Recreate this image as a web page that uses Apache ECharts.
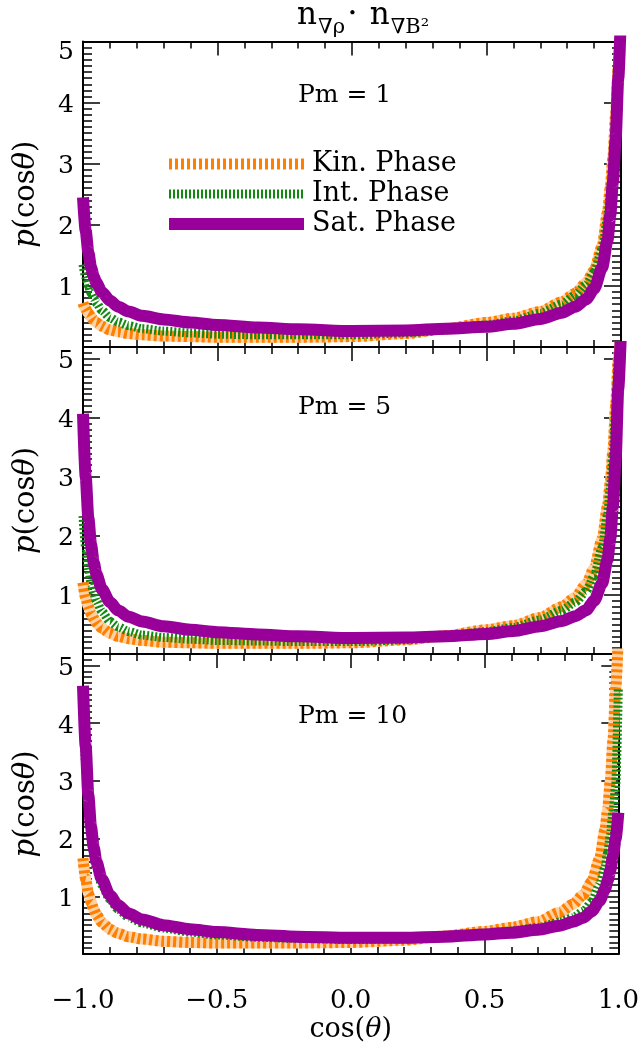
<!DOCTYPE html>
<html><head><meta charset="utf-8">
<script src="https://cdn.jsdelivr.net/npm/echarts@6/dist/echarts.min.js"></script>
<style>html,body{margin:0;padding:0;background:#fff}#c{width:642px;height:1044px}</style>
</head><body><div id="c"></div>
<script>
// cos(theta) sample points
const xs = [-1, -0.99, -0.98, -0.97, -0.96, -0.95, -0.93, -0.9, -0.87, -0.83, -0.78, -0.7, -0.6, -0.5, -0.35, -0.2, 0, 0.2, 0.35, 0.5, 0.6, 0.7, 0.78, 0.83, 0.87, 0.9, 0.93, 0.95, 0.96, 0.97, 0.98, 0.99, 1.0];

// Pm = 1
const kin1 = [0.72, 0.62, 0.55, 0.49, 0.44, 0.40, 0.34, 0.28, 0.25, 0.22, 0.20, 0.18, 0.17, 0.16, 0.16, 0.16, 0.17, 0.22, 0.30, 0.40, 0.47, 0.58, 0.74, 0.88, 1.05, 1.25, 1.65, 2.2, 2.6, 3.1, 3.8, 4.6, 5.5];
const int1 = [1.35, 1.15, 1.0, 0.88, 0.80, 0.72, 0.60, 0.48, 0.41, 0.35, 0.30, 0.26, 0.23, 0.21, 0.20, 0.20, 0.20, 0.23, 0.28, 0.36, 0.43, 0.55, 0.70, 0.85, 1.02, 1.22, 1.6, 2.1, 2.5, 3.0, 3.7, 4.5, 5.5];
const sat1 = [2.45, 1.9, 1.55, 1.3, 1.15, 1.05, 0.9, 0.76, 0.66, 0.58, 0.51, 0.45, 0.40, 0.36, 0.32, 0.29, 0.26, 0.27, 0.30, 0.33, 0.38, 0.46, 0.56, 0.66, 0.78, 0.95, 1.3, 1.75, 2.15, 2.7, 3.4, 4.4, 5.5];
// Pm = 5
const kin5 = [1.21, 0.95, 0.80, 0.68, 0.60, 0.53, 0.44, 0.35, 0.30, 0.26, 0.23, 0.20, 0.19, 0.18, 0.18, 0.18, 0.19, 0.24, 0.31, 0.41, 0.48, 0.62, 0.80, 0.96, 1.18, 1.45, 1.95, 2.5, 2.9, 3.45, 4.2, 5.0, 5.5];
const int5 = [2.34, 1.8, 1.45, 1.2, 1.03, 0.90, 0.72, 0.55, 0.46, 0.38, 0.32, 0.28, 0.25, 0.23, 0.22, 0.21, 0.21, 0.24, 0.30, 0.38, 0.45, 0.58, 0.74, 0.88, 1.06, 1.32, 1.8, 2.35, 2.8, 3.35, 4.1, 5.0, 5.5];
const sat5 = [4.07, 3.0, 2.3, 1.85, 1.55, 1.35, 1.1, 0.88, 0.74, 0.63, 0.55, 0.47, 0.41, 0.37, 0.33, 0.30, 0.27, 0.28, 0.30, 0.34, 0.39, 0.47, 0.56, 0.64, 0.74, 0.90, 1.2, 1.6, 1.95, 2.5, 3.3, 4.5, 5.5];
// Pm = 10
const kin10 = [1.66, 1.3, 1.05, 0.90, 0.78, 0.68, 0.55, 0.43, 0.36, 0.30, 0.26, 0.22, 0.20, 0.19, 0.19, 0.19, 0.20, 0.24, 0.31, 0.39, 0.46, 0.56, 0.72, 0.86, 1.03, 1.25, 1.65, 2.15, 2.5, 3.0, 3.7, 4.6, 5.5];
const int10 = [4.3, 3.3, 2.55, 2.05, 1.72, 1.48, 1.2, 0.95, 0.78, 0.64, 0.54, 0.45, 0.38, 0.33, 0.29, 0.27, 0.25, 0.26, 0.30, 0.36, 0.40, 0.46, 0.55, 0.63, 0.74, 0.90, 1.2, 1.5, 1.75, 2.05, 2.45, 2.9, 4.62];
const sat10 = [4.65, 3.6, 2.75, 2.2, 1.85, 1.6, 1.3, 1.02, 0.85, 0.70, 0.60, 0.50, 0.43, 0.38, 0.33, 0.30, 0.28, 0.28, 0.30, 0.34, 0.37, 0.42, 0.49, 0.56, 0.63, 0.74, 0.92, 1.12, 1.27, 1.45, 1.7, 2.0, 2.45];

const seriesNames = ['Kin. Phase', 'Int. Phase', 'Sat. Phase'];
const panelLabels = ['Pm = 1', 'Pm = 5', 'Pm = 10'];
const yMaxes = [5, 5.2, 5.2];
const xTickLabels = {'-1': '\u22121.0', '-0.5': '\u22120.5', '0': '0.0', '0.5': '0.5', '1': '1.0'};

const FONT = 'DejaVu Serif';
const panels = [
  {kin: kin1, int: int1, sat: sat1},
  {kin: kin5, int: int5, sat: sat5},
  {kin: kin10, int: int10, sat: sat10}
];
const gridPos = [{top: 41.5, h: 305.5}, {top: 347, h: 307}, {top: 654, h: 307}];

const grid = [], xAxis = [], yAxis = [], series = [];
const black = '#000';
const lineColors = {kin: '#ff8000', kinLight: '#ffd2a6', int: '#128a12', sat: '#990099'};

function mkX(i, pos, labels) {
  const ax = {
    type: 'value', gridIndex: i, position: pos, min: -1, max: 1, interval: 0.5,
    axisLine: {show: true, onZero: false, lineStyle: {color: black, width: 2}},
    axisTick: {show: true, inside: true, length: 14, lineStyle: {color: black, width: 1.5}},
    minorTick: {show: true, splitNumber: 5, length: 7, lineStyle: {color: black, width: 1.5}},
    splitLine: {show: false}, minorSplitLine: {show: false},
    axisLabel: {show: labels, color: black, fontFamily: FONT, fontSize: 26, margin: 34,
      formatter: v => xTickLabels[String(v)] || ''}
  };
  if (labels) {
    ax.name = '{n|cos(}{i|θ}{n|)}';
    ax.nameLocation = 'middle';
    ax.nameGap = 62;
    ax.nameTextStyle = {rich: {
      n: {fontFamily: FONT, fontSize: 27, color: black},
      i: {fontFamily: FONT, fontSize: 27, fontStyle: 'italic', color: black}}};
  }
  return ax;
}
function mkYMajor(i, pos, labels) {
  const top = yMaxes[i];
  const ax = {
    type: 'value', gridIndex: i, position: pos, min: 0, max: top, interval: 1,
    axisLine: {show: true, onZero: false, lineStyle: {color: black, width: 2}},
    axisTick: {show: true, inside: true, length: 17, lineStyle: {color: black, width: 1.5}},
    splitLine: {show: false},
    axisLabel: {show: labels, margin: 9,
      formatter: v => (Number.isInteger(v) && v > 0) ? ((v === top ? '{b|' : '{a|') + v + '}') : '',
      rich: {
        a: {color: black, fontFamily: FONT, fontSize: 25, padding: [6, 0, 0, 0]},
        b: {color: black, fontFamily: FONT, fontSize: 25, padding: [22, 0, 0, 0]}}}
  };
  if (labels) {
    ax.name = '{i|p}{n|(cos}{i|θ}{n|)}';
    ax.nameLocation = 'middle';
    ax.nameGap = 42;
    ax.nameRotate = 90;
    ax.nameTextStyle = {rich: {
      n: {fontFamily: FONT, fontSize: 29, color: black},
      i: {fontFamily: FONT, fontSize: 29, fontStyle: 'italic', color: black}}};
  }
  return ax;
}
function mkYMinor(i, pos) {
  return {
    type: 'value', gridIndex: i, position: pos, min: 0, max: yMaxes[i], interval: 0.1,
    axisLine: {show: false, onZero: false},
    axisTick: {show: true, inside: true, length: 9, lineStyle: {color: black, width: 1.5}},
    splitLine: {show: false}, axisLabel: {show: false}
  };
}
function mkLine(name, ys, xi, yi, style, z) {
  return {
    type: 'line', name: name, xAxisIndex: xi, yAxisIndex: yi, z: z,
    data: xs.map((x, k) => [x, ys[k]]),
    symbol: 'none', clip: true, smooth: 0.25, smoothMonotone: 'x',
    lineStyle: Object.assign({cap: 'butt', join: 'round'}, style),
    emphasis: {disabled: true}, silent: true
  };
}

panels.forEach((p, i) => {
  grid.push({left: 83, width: 538, top: gridPos[i].top, height: gridPos[i].h});
  const xi = xAxis.length;
  xAxis.push(mkX(i, 'bottom', i === 2));
  xAxis.push(mkX(i, 'top', false));
  const yi = yAxis.length;
  yAxis.push(mkYMajor(i, 'left', true));
  yAxis.push(mkYMinor(i, 'left'));
  yAxis.push(mkYMajor(i, 'right', false));
  yAxis.push(mkYMinor(i, 'right'));
  series.push(mkLine('kin-under', p.kin, xi, yi, {color: lineColors.kinLight, width: 11}, 2));
  series.push(mkLine(seriesNames[0], p.kin, xi, yi, {color: lineColors.kin, width: 11, type: [3, 3]}, 3));
  series.push(mkLine(seriesNames[1], p.int, xi, yi, {color: lineColors.int, width: 9, type: [2, 2]}, 4));
  series.push(mkLine(seriesNames[2], p.sat, xi, yi, {color: lineColors.sat, width: 12}, 5));
});

const graphic = [
  {type: 'text', left: 297, top: 0, style: {
    text: '{n|n}{s|∇ρ}{d|•}{n| n}{s|∇B²}',
    rich: {
      n: {fontFamily: FONT, fontSize: 31, lineHeight: 31, fill: black, verticalAlign: 'top'},
      s: {fontFamily: FONT, fontSize: 21, lineHeight: 21, fill: black, verticalAlign: 'bottom', padding: [0, 0, -7, 1]},
      d: {fontFamily: FONT, fontSize: 15, lineHeight: 15, fill: black, verticalAlign: 'top', padding: [7, 3, 0, 3]}
    }}}
];
panelLabels.forEach((t, i) => {
  graphic.push({type: 'text', left: 298, top: [83, 395, 704][i],
    style: {text: t, fontFamily: FONT, fontSize: 25, fill: black}});
});

const chart = echarts.init(document.getElementById('c'), null, {renderer: 'canvas'});
chart.setOption({
  animation: false,
  backgroundColor: '#fff',
  grid: grid, xAxis: xAxis, yAxis: yAxis, series: series,
  legend: {
    show: true, orient: 'vertical', left: 163, top: 149, padding: 0,
    itemWidth: 135, itemHeight: 14, itemGap: 0,
    textStyle: {fontFamily: FONT, fontSize: 27, color: black, padding: [0, 0, 0, 3], lineHeight: 30},
    data: [
      {name: seriesNames[0], itemStyle: {opacity: 0}, lineStyle: {width: 11, type: [3, 3]}},
      {name: seriesNames[1], itemStyle: {opacity: 0}, lineStyle: {width: 9, type: [2, 2]}},
      {name: seriesNames[2], itemStyle: {opacity: 0}, lineStyle: {width: 12}}
    ],
    selectedMode: false
  },
  graphic: graphic
});
</script></body></html>
